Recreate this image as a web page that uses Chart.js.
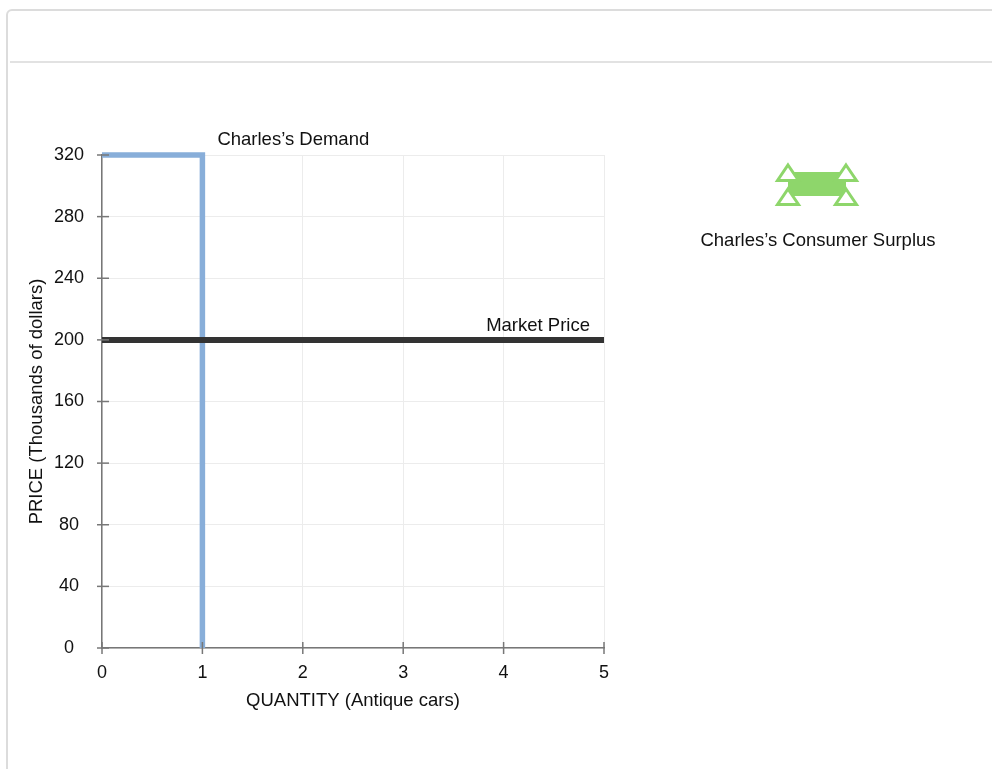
<!DOCTYPE html>
<html>
<head>
<meta charset="utf-8">
<script src="https://cdn.jsdelivr.net/npm/chart.js@4"></script>
<style>
  body { margin: 0; background: #fff; }
  #box { position: absolute; left: 6px; top: 9px; width: 1000px; height: 800px; border: 2px solid #dcdcdc; border-radius: 6px; }
  #sep { position: absolute; left: 10px; top: 61px; width: 990px; height: 0; border-top: 2px solid #e2e2e2; }
  #wrap { position: absolute; left: 0; top: 0; width: 992px; height: 769px; }
</style>
</head>
<body>
<div id="box"></div>
<div id="sep"></div>
<div id="wrap"><canvas id="chart"></canvas></div>
<script>
var demandQty = [0, 1, 1]
var demandPrice = [320, 320, 0]
var marketQty = [0, 5]
var marketPrice = [200, 200]
var xTicks = [0, 1, 2, 3, 4, 5]
var yTicks = [0, 40, 80, 120, 160, 200, 240, 280, 320]

var font = "'Liberation Sans', Arial, sans-serif"

function pts(xs, ys) {
  return xs.map(function (x, i) { return { x: x, y: ys[i] } })
}

// ticks that cross the axis lines, plus text labels and the legend swatch
var extras = {
  id: 'extras',
  afterDraw: function (chart) {
    var ctx = chart.ctx
    var xs = chart.scales.x, ys = chart.scales.y
    var a = chart.chartArea
    ctx.save()
    ctx.strokeStyle = '#777'
    ctx.lineWidth = 1.5
    yTicks.forEach(function (v) {
      var p = ys.getPixelForValue(v)
      ctx.beginPath(); ctx.moveTo(a.left - 5, p); ctx.lineTo(a.left + 7, p); ctx.stroke()
    })
    xTicks.forEach(function (v) {
      var p = xs.getPixelForValue(v)
      ctx.beginPath(); ctx.moveTo(p, a.bottom - 6); ctx.lineTo(p, a.bottom + 6); ctx.stroke()
    })

    ctx.fillStyle = '#111'
    ctx.font = '18.5px ' + font
    ctx.textBaseline = 'alphabetic'
    ctx.textAlign = 'left'
    ctx.fillText('Charles\u2019s Demand', xs.getPixelForValue(1) + 15, ys.getPixelForValue(320) - 10)
    ctx.textAlign = 'right'
    ctx.fillText('Market Price', xs.getPixelForValue(5) - 14, ys.getPixelForValue(200) - 9)

    // legend for consumer surplus
    var left = 788, top = 172, w = 58, h = 24
    ctx.fillStyle = '#8ed66b'
    ctx.fillRect(left, top, w, h)
    var corners = [[left, top], [left + w, top], [left, top + h], [left + w, top + h]]
    ctx.strokeStyle = '#8ed66b'
    ctx.lineWidth = 3
    ctx.fillStyle = '#fff'
    corners.forEach(function (c) {
      ctx.beginPath()
      ctx.moveTo(c[0], c[1] - 7)
      ctx.lineTo(c[0] + 10.5, c[1] + 8.5)
      ctx.lineTo(c[0] - 10.5, c[1] + 8.5)
      ctx.closePath()
      ctx.fill()
      ctx.stroke()
    })
    ctx.fillStyle = '#111'
    ctx.textAlign = 'center'
    ctx.fillText('Charles\u2019s Consumer Surplus', 818, 246)
    ctx.restore()
  }
}

new Chart(document.getElementById('chart'), {
  type: 'line',
  data: {
    datasets: [
      {
        label: 'Market Price',
        data: pts(marketQty, marketPrice),
        borderColor: '#333333',
        borderWidth: 6,
        pointRadius: 0,
        fill: false,
        clip: false
      },
      {
        label: 'Charles\u2019s Demand',
        data: pts(demandQty, demandPrice),
        borderColor: '#88aed9',
        borderWidth: 5.5,
        pointRadius: 0,
        fill: false,
        clip: false,
        borderJoinStyle: 'miter'
      }
    ]
  },
  options: {
    responsive: true,
    maintainAspectRatio: false,
    animation: false,
    layout: { padding: { left: 26, top: 155, right: 388, bottom: 57 } },
    plugins: { legend: { display: false }, tooltip: { enabled: false } },
    scales: {
      x: {
        type: 'linear',
        min: 0, max: 5,
        afterFit: function (s) { s.height = 64 },
        afterBuildTicks: function (s) { s.ticks = xTicks.map(function (v) { return { value: v } }) },
        grid: { color: '#ececec', lineWidth: 1, drawTicks: false },
        border: { color: '#777', width: 1.5 },
        ticks: { padding: 14, color: '#111', font: { family: font, size: 18 } },
        title: { display: true, text: 'QUANTITY (Antique cars)', color: '#111', font: { family: font, size: 18.5 }, padding: { top: 0, bottom: 0 } }
      },
      y: {
        min: 0, max: 320,
        afterFit: function (s) { s.width = 76 },
        afterBuildTicks: function (s) { s.ticks = yTicks.map(function (v) { return { value: v } }) },
        grid: { color: '#ececec', lineWidth: 1, drawTicks: false },
        border: { color: '#777', width: 1.5 },
        ticks: { padding: 18, crossAlign: 'center', color: '#111', font: { family: font, size: 18 } },
        title: { display: true, text: 'PRICE (Thousands of dollars)', color: '#111', font: { family: font, size: 18.5 }, padding: { top: 0, bottom: 0 } }
      }
    }
  },
  plugins: [extras]
})
</script>
</body>
</html>
